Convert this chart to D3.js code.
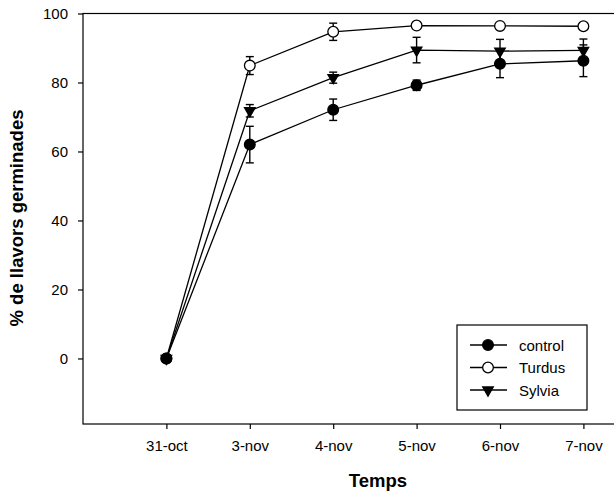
<!DOCTYPE html>
<html>
<head>
<meta charset="utf-8">
<script src="https://cdn.jsdelivr.net/npm/d3@7"></script>
<style>
  body { margin: 0; background: #fff; }
  svg { font-family: "Liberation Sans", Arial, sans-serif; }
</style>
</head>
<body>
<svg id="chart" width="614" height="492"></svg>
<script>
const width = 614;
const height = 492;

// Dades
const days = ["31-oct", "3-nov", "4-nov", "5-nov", "6-nov", "7-nov"];
const controlVals = [0, 62, 72.1, 79.2, 85.4, 86.3];
const controlErr = [0, 5.3, 3.1, 1.5, 4, 4.6];
const turdusVals = [0, 84.9, 94.7, 96.5, 96.4, 96.3];
const turdusErr = [0, 2.6, 2.5, 0.8, 0.8, 0.8];
const sylviaVals = [0, 71.8, 81.4, 89.4, 89.1, 89.3];
const sylviaErr = [0, 1.8, 1.6, 3.7, 3.4, 3.3];
const yTicks = [0, 20, 40, 60, 80, 100];

const series = [
  { name: "control", values: controlVals, err: controlErr, symbol: "circle", fill: "#000" },
  { name: "Turdus", values: turdusVals, err: turdusErr, symbol: "circle", fill: "#fff" },
  { name: "Sylvia", values: sylviaVals, err: sylviaErr, symbol: "triangle", fill: "#000" }
];
// ordre de dibuix dels marcadors (control a sobre)
const drawOrder = [1, 2, 0];

const margin = { left: 83, top: 13.5, bottom: 424 };
const step = 83.4;

const svg = d3.select("#chart");

// Escales
const x = d3.scalePoint()
  .domain(days)
  .range([margin.left, margin.left + step * (days.length + 1)])
  .padding(1);

const y = d3.scaleLinear()
  .domain([-19, 100])
  .range([margin.bottom, margin.top]);

// Marc
svg.append("rect")
  .attr("x", margin.left)
  .attr("y", margin.top)
  .attr("width", step * (days.length + 1))
  .attr("height", margin.bottom - margin.top)
  .attr("fill", "none")
  .attr("stroke", "#000")
  .attr("stroke-width", 1.2);

// Eixos
const yAxis = svg.append("g")
  .attr("transform", `translate(${margin.left},0)`)
  .call(d3.axisLeft(y).tickValues(yTicks).tickSize(5).tickPadding(10));

const xAxis = svg.append("g")
  .attr("transform", `translate(0,${margin.bottom})`)
  .call(d3.axisBottom(x).tickSize(5).tickPadding(11));

[xAxis, yAxis].forEach(g => {
  g.select(".domain").remove();
  g.selectAll("line").attr("stroke", "#000").attr("stroke-width", 1.2);
  g.selectAll("text")
    .attr("font-size", "15px")
    .attr("fill", "#000")
    .attr("font-family", "'Liberation Sans', Arial, sans-serif");
});

// Títols
svg.append("text")
  .attr("x", 378)
  .attr("y", 487)
  .attr("text-anchor", "middle")
  .attr("font-size", "18.5px")
  .attr("font-weight", "bold")
  .text("Temps");

svg.append("text")
  .attr("transform", "translate(23,218) rotate(-90)")
  .attr("text-anchor", "middle")
  .attr("font-size", "18.5px")
  .attr("font-weight", "bold")
  .text("% de llavors germinades");

const line = d3.line()
  .x((d, i) => x(days[i]))
  .y(d => y(d));

const sym = {
  circle: d3.symbol().type(d3.symbolCircle).size(90),
  triangle: d3.symbol().type(d3.symbolTriangle).size(48)
};

const plot = svg.append("g");

// Línies
series.forEach(s => {
  plot.append("path")
    .datum(s.values)
    .attr("d", line)
    .attr("fill", "none")
    .attr("stroke", "#000")
    .attr("stroke-width", 1.3);
});

// Barres d'error
series.forEach(s => {
  const g = plot.append("g");
  s.values.forEach((v, i) => {
    if (!s.err[i]) return;
    const cx = x(days[i]);
    const y0 = y(v - s.err[i]);
    const y1 = y(v + s.err[i]);
    g.append("line").attr("x1", cx).attr("x2", cx).attr("y1", y0).attr("y2", y1)
      .attr("stroke", "#000").attr("stroke-width", 1.4);
    [y0, y1].forEach(yy => {
      g.append("line").attr("x1", cx - 4).attr("x2", cx + 4).attr("y1", yy).attr("y2", yy)
        .attr("stroke", "#000").attr("stroke-width", 1.4);
    });
  });
});

// Marcadors
drawOrder.map(k => series[k]).forEach(s => {
  plot.append("g")
    .selectAll("path")
    .data(s.values)
    .enter().append("path")
    .attr("transform", (d, i) => `translate(${x(days[i])},${y(d)})` + (s.symbol === "triangle" ? " rotate(180)" : ""))
    .attr("d", sym[s.symbol]())
    .attr("fill", s.fill)
    .attr("stroke", "#000")
    .attr("stroke-width", 1.3);
});

// Llegenda
const legend = svg.append("g").attr("transform", "translate(457,325)");
legend.append("rect")
  .attr("width", 130)
  .attr("height", 85)
  .attr("fill", "#fff")
  .attr("stroke", "#000")
  .attr("stroke-width", 1.2);

const legendItems = legend.selectAll("g.item")
  .data(series)
  .enter().append("g")
  .attr("class", "item")
  .attr("transform", (d, i) => `translate(0,${20 + i * 22.5})`);

legendItems.append("line")
  .attr("x1", 13).attr("x2", 50)
  .attr("stroke", "#000").attr("stroke-width", 1.3);

legendItems.append("path")
  .attr("transform", d => "translate(31,0)" + (d.symbol === "triangle" ? " rotate(180)" : ""))
  .attr("d", d => sym[d.symbol]())
  .attr("fill", d => d.fill)
  .attr("stroke", "#000")
  .attr("stroke-width", 1.3);

legendItems.append("text")
  .attr("x", 62)
  .attr("y", 5.5)
  .attr("font-size", "15px")
  .text(d => d.name);
</script>
</body>
</html>
